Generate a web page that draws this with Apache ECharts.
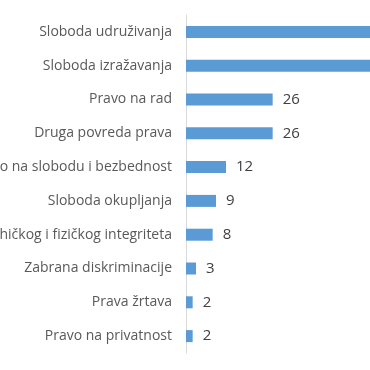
<!DOCTYPE html>
<html><head><meta charset="utf-8">
<script src="https://cdn.jsdelivr.net/npm/echarts@6/dist/echarts.min.js"></script>
<style>html,body{margin:0;padding:0;background:#fff}#c{width:370px;height:370px}</style>
</head><body><div id="c"></div>
<script>
const categories = ["Sloboda udruživanja","Sloboda izražavanja","Pravo na rad","Druga povreda prava","Pravo na slobodu i bezbednost","Sloboda okupljanja","Zaštita psihičkog i fizičkog integriteta","Zabrana diskriminacije","Prava žrtava","Pravo na privatnost"];
const values = [65, 60, 26, 26, 12, 9, 8, 3, 2, 2];
const xMax = 55.2;
const chart = echarts.init(document.getElementById('c'));
chart.setOption({
  animation:false,
  grid:{left:186,right:0,top:15,bottom:17,containLabel:false,outerBoundsMode:'none'},
  xAxis:{type:'value',min:0,max:xMax,show:false},
  yAxis:{type:'category',inverse:true,data:categories,
    axisLine:{show:true,lineStyle:{color:'#d9d9d9',width:1}},
    axisTick:{show:false},
    axisLabel:{color:'#595959',fontSize:14,fontFamily:'Open Sans',margin:14}},
  series:[{type:'bar',data:values,barWidth:12,clip:true,
    itemStyle:{color:'#5B9BD5'},
    label:{show:true,position:'right',distance:10,color:'#404040',fontSize:15,fontFamily:'Open Sans'}}]
});
</script></body></html>
